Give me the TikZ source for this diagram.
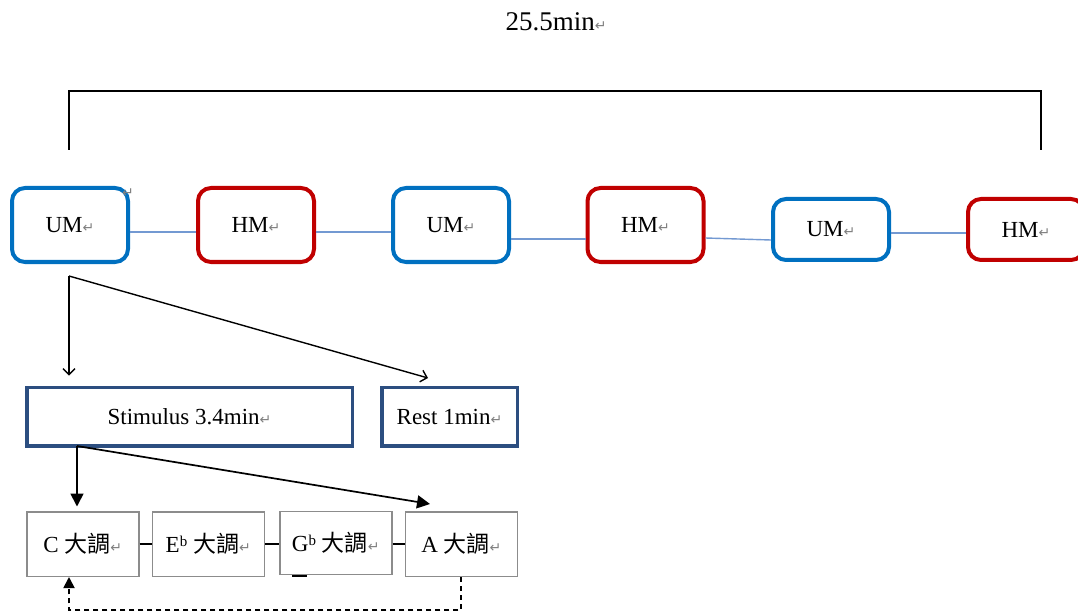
\documentclass[tikz,border=0pt]{standalone}
\usepackage{fontspec}
\setmainfont{Liberation Serif}
\newfontfamily\cjk{Noto Sans CJK TC}
\newfontfamily\symfont{DejaVu Sans}
\usetikzlibrary{arrows.meta}
\definecolor{umblue}{HTML}{0070C0}
\definecolor{hmred}{HTML}{C00000}
\definecolor{linkblue}{HTML}{7399D2}
\definecolor{stimnavy}{HTML}{2C4E80}
\definecolor{keygray}{HTML}{8C8C8C}
\definecolor{retgray}{HTML}{808080}
\newcommand{\pmark}{{\color{retgray}\symfont\fontsize{14}{14}\selectfont ↵}}
\newcommand{\dadiao}{{\cjk 大調}}
\newcommand{\flatsup}[1]{#1\raisebox{6pt}{\fontsize{15}{15}\selectfont b}}
\begin{document}
\begin{tikzpicture}[x=1pt, y=-1pt, >={Straight Barb[length=6pt,width=12pt]}, font=\fontsize{23}{27}\selectfont]
\tikzstyle{um}=[rectangle,rounded corners=13pt,draw=umblue,line width=4pt,minimum width=116pt,minimum height=74pt,inner sep=0pt,fill=white]
\tikzstyle{hm}=[um,draw=hmred]
\tikzstyle{phase}=[rectangle,draw=stimnavy,line width=3.5pt,minimum height=58.5pt,inner sep=0pt,fill=white]
\tikzstyle{key}=[rectangle,draw=keygray,line width=1.5pt,minimum width=112pt,minimum height=64.5pt,inner sep=0pt,fill=white]
\tikzstyle{link}=[draw=linkblue,line width=1.4pt]
\tikzstyle{bigtip}=[-{Triangle[length=13pt,width=13pt]}]
\useasboundingbox (0,0) rectangle (1078,612);
\clip (0,0) rectangle (1078,612);
\fill[white] (0,0) rectangle (1078,612);
% total time
\node[font=\fontsize{27}{30}\selectfont] (total) at (556,22) {25.5min\pmark};
\coordinate (bl) at (69,150);
\coordinate (br) at (1041,150);
\draw[line width=2.8pt] (bl) -- ++(0,-59) -| (br);
% blocks
\node[um](um1) at (70,225) {UM\pmark};
\node[hm](hm1) at (256,225) {HM\pmark};
\node[um](um2) at (451,225) {UM\pmark};
\node[hm](hm2) at (645.5,225) {HM\pmark};
\node[um,minimum height=61pt](um3) at (831,229.5) {UM\pmark};
\node[hm,minimum height=61pt](hm3) at (1026,229.5) {HM\pmark};
\node[inner sep=0pt](umstray) at (128,193) {\pmark};
\draw[link] ([yshift=-7pt]um1.east) -- ([yshift=-7pt]hm1.west);
\draw[link] ([yshift=-7pt]hm1.east) -- ([yshift=-7pt]um2.west);
\draw[link] ([yshift=-14pt]um2.east) -- ([yshift=-14pt]hm2.west);
\draw[link] ([yshift=-13pt]hm2.east) -- ([yshift=-10.5pt]um3.west);
\draw[link] ([yshift=-3.5pt]um3.east) -- ([yshift=-3.5pt]hm3.west);
% stimulus and rest
\node[phase,minimum width=325.5pt](stim) at (189.5,416.5) {Stimulus 3.4min\pmark};
\node[phase,minimum width=135.5pt](rest) at (449.5,416.5) {Rest 1min\pmark};
\coordinate (um1split) at (69,276);
\coordinate (restin) at (428,378);
\draw[->,line width=1.4pt,shorten >=10pt] (um1split) -- (stim.north -| um1split);
\draw[->,line width=1.4pt] (um1split) -- (restin);
% keys
\node[key](c) at (82.75,544) {C \dadiao\pmark};
\node[key](e) at (208.25,544) {\flatsup{E} \dadiao\pmark};
\node[key,minimum height=63pt](g) at (335.75,542.75) {\flatsup{G} \dadiao\pmark};
\node[key](a) at (461.3,544) {A \dadiao\pmark};
\draw[line width=1.2pt] (c.east) -- (e.west);
\draw[line width=1.2pt] (e.east) -- (e.east -| g.west);
\draw[line width=1.2pt] (a.west -| g.east) -- (a.west);
\draw[line width=1.5pt] (292,576) -- (307,576);
\coordinate (stimsplit) at (77,446);
\coordinate (keyin) at (430,504);
\draw[bigtip,line width=1.7pt,shorten >=4.5pt] (stimsplit) -- (c.north -| stimsplit);
\draw[bigtip,line width=1.7pt] (stimsplit) -- (keyin);
\draw[-{Triangle[length=11pt,width=11pt]},line width=1.8pt,dash pattern=on 5pt off 4pt] (a.south) -- ++(0,33) -| ([xshift=-13.75pt]c.south);
\end{tikzpicture}
\end{document}
